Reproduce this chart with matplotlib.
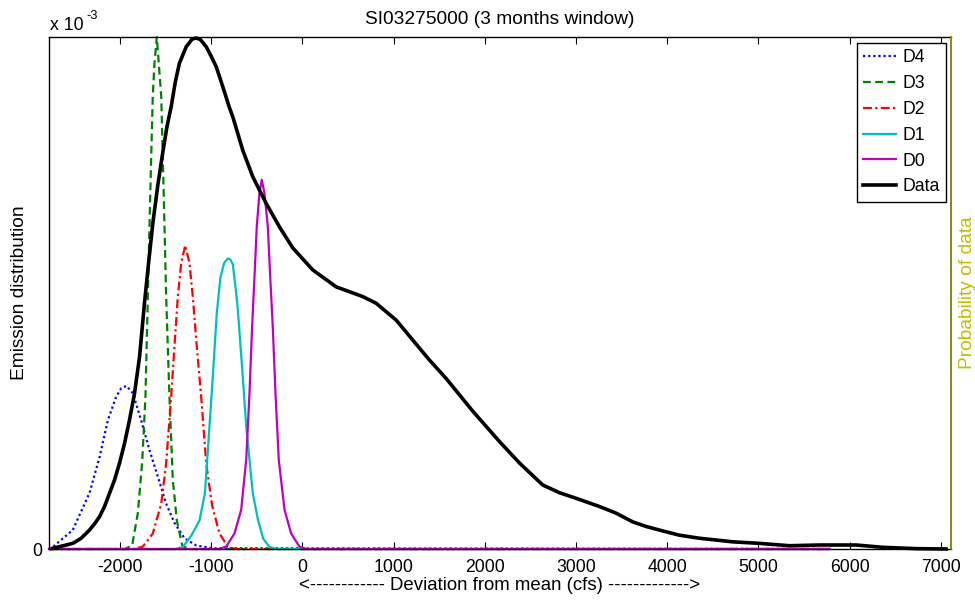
import matplotlib
matplotlib.use("Agg")
import matplotlib.pyplot as plt

plt.rcParams['font.family'] = ['Liberation Sans', 'DejaVu Sans']

# ---- data (left axis values in units of 1e-3) ----
d4_x = [-2780, -2738, -2519, -2336, -2226, -2135, -2043, -1988, -1933, -1861, -1769, -1678, -1587, -1495, -1404, -1294, -1166, -984, 5780]
d4_y = [0, 0.017, 0.16, 0.47, 0.77, 1.08, 1.28, 1.35, 1.37, 1.31, 1.08, 0.83, 0.61, 0.38, 0.22, 0.09, 0.03, 0.006, 0]

d3_x = [-2780, -1950, -1868, -1806, -1758, -1722, -1696, -1670, -1642, -1623, -1598, -1576, -1549, -1521, -1495, -1459, -1422, -1378, -1319, -1250, 5780]
d3_y = [0, 0, 0.03, 0.30, 0.73, 1.28, 2.12, 2.96, 3.80, 4.08, 4.30, 4.08, 3.80, 2.96, 2.12, 1.28, 0.58, 0.24, 0.03, 0, 0]

d2_x = [-2780, -1850, -1751, -1642, -1549, -1495, -1440, -1404, -1367, -1330, -1286, -1239, -1203, -1159, -1111, -1056, -990, -910, -819, -740, 5780]
d2_y = [0, 0, 0.02, 0.13, 0.38, 0.72, 1.28, 1.70, 2.12, 2.40, 2.55, 2.40, 2.12, 1.70, 1.28, 0.72, 0.36, 0.13, 0.02, 0, 0]

d1_x = [-2780, -1400, -1313, -1221, -1129, -1070, -1027, -984, -940, -900, -860, -819, -790, -764, -727, -709, -655, -617, -581, -545, -490, -430, -362, -280, 5780]
d1_y = [0, 0, 0.017, 0.11, 0.24, 0.47, 0.95, 1.44, 1.98, 2.28, 2.40, 2.44, 2.43, 2.39, 2.15, 2.01, 1.45, 1.03, 0.75, 0.47, 0.25, 0.086, 0.017, 0, 0]

d0_x = [-2780, -920, -837, -746, -672, -617, -581, -552, -526, -501, -472, -446, -417, -380, -354, -326, -296, -260, -197, -124, -33, 40, 5780]
d0_y = [0, 0, 0.02, 0.13, 0.33, 0.75, 1.31, 1.87, 2.29, 2.71, 2.99, 3.10, 2.99, 2.71, 2.29, 1.87, 1.31, 0.75, 0.33, 0.13, 0.02, 0, 0]

# right axis (probability of data, relative scale)
data_x = [-2738, -2519, -2427, -2336, -2281, -2226, -2171, -2116, -2061, -2006, -1952, -1897, -1842, -1787,
          -1733, -1687, -1642, -1587, -1532, -1486, -1440, -1395, -1349, -1275, -1210, -1166, -1120, -1056,
          -1000, -946, -874, -801, -764, -655, -545, -398, -252, -106, 113, 370, 661, 808, 1028, 1210,
          1393, 1576, 1864, 2160, 2380, 2635, 2818, 3001, 3257, 3440, 3622, 3769, 3915, 4134, 4354, 4719,
          5012, 5341, 5670, 6072, 6364, 6730, 7059]
data_y = [0.0014, 0.011, 0.021, 0.037, 0.049, 0.063, 0.083, 0.109, 0.135, 0.168, 0.206, 0.252, 0.304, 0.375,
          0.48, 0.56, 0.635, 0.71, 0.775, 0.825, 0.864, 0.912, 0.949, 0.981, 0.996, 0.998, 0.995, 0.981,
          0.962, 0.942, 0.903, 0.862, 0.844, 0.779, 0.727, 0.675, 0.629, 0.588, 0.545, 0.512, 0.493, 0.480, 0.447, 0.408,
          0.369, 0.333, 0.270, 0.210, 0.168, 0.125, 0.110, 0.099, 0.083, 0.070, 0.053, 0.044, 0.037, 0.027, 0.021, 0.014,
          0.011, 0.0064, 0.0078, 0.0078, 0.0033, 0.0007, 0.0]

xticks = [-2000, -1000, 0, 1000, 2000, 3000, 4000, 5000, 6000, 7000]
title = "SI03275000 (3 months window)"

FT = 12.7   # tick / legend font
FL = 13.8   # title / label font
fig = plt.figure(figsize=(9.75, 6.03), dpi=100)
ax = fig.add_axes([49/975, 1-549/603, (951-49)/975, (549-37)/603])
ax2 = ax.twinx()

olive = (0.5, 0.5, 0.0)
lw = 1.6
l4, = ax.plot(d4_x, d4_y, color=(0, 0, 1), ls=(0, (1, 1.3)), lw=lw, clip_on=False)
l3, = ax.plot(d3_x, d3_y, color=(0, 0.5, 0), ls=(0, (3.5, 2)), lw=lw, clip_on=False)
l2, = ax.plot(d2_x, d2_y, color=(1, 0, 0), ls=(0, (4, 1.5, 1, 1.5)), lw=lw, clip_on=False)
l1, = ax.plot(d1_x, d1_y, color=(0, 0.75, 0.75), ls='-', lw=lw, clip_on=False)
l0, = ax.plot(d0_x, d0_y, color=(0.75, 0, 0.75), ls='-', lw=lw, clip_on=False)
ld, = ax2.plot(data_x, data_y, color='black', lw=2.6, clip_on=False, solid_joinstyle='round')

ax.set_xlim(-2780, 7113)
ax.set_ylim(0, 4.3)
ax2.set_ylim(0, 1.0)

ax.set_xticks(xticks)
ax.set_xticklabels([str(t) for t in xticks], fontsize=FT)
ax.set_yticks([0])
ax.set_yticklabels(['0'], fontsize=FT)
ax.tick_params(axis='x', direction='in', length=5, width=0.8, top=True, pad=7)
ax.tick_params(axis='y', direction='in', length=0, pad=5)
ax2.set_yticks([])
for s in ['left', 'top', 'bottom']:
    ax.spines[s].set_linewidth(1.0)
ax.spines['right'].set_visible(False)
for s in ['left', 'top', 'bottom']:
    ax2.spines[s].set_visible(False)
ax2.spines['right'].set_color(olive)
ax2.spines['right'].set_linewidth(1.3)

ax.set_title(title, fontsize=FL, pad=9)
ax.set_xlabel("<------------ Deviation from mean (cfs) ------------->", fontsize=13.4, labelpad=1)
ax.set_ylabel("Emission distribution", fontsize=FL, labelpad=3)
ax2.set_ylabel("Probability of data", fontsize=FL, color=(0.75, 0.75, 0), labelpad=6)

fig.text(50/975, 1-25/603, "x 10", fontsize=FT, va='center', ha='left')
fig.text(86/975, 1-16/603, "-3", fontsize=FT*0.72, va='center', ha='left')

leg = ax2.legend([l4, l3, l2, l1, l0, ld], ['D4', 'D3', 'D2', 'D1', 'D0', 'Data'],
                 loc='upper right', bbox_to_anchor=(0.9945, 0.988), borderaxespad=0,
                 fontsize=FT, fancybox=False, framealpha=1, edgecolor='black',
                 handlelength=1.9, handletextpad=0.35, labelspacing=0.5, borderpad=0.35)
leg.get_frame().set_linewidth(1.0)

fig.savefig("out.png", dpi=100)
